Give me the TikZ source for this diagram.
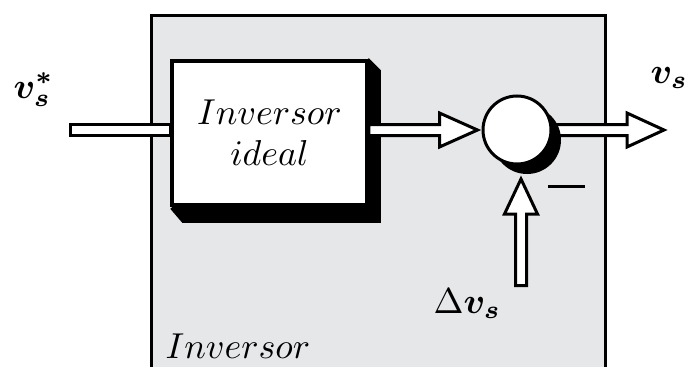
\documentclass[tikz,border=0pt]{standalone}
\usepackage{bm}
\usetikzlibrary{calc}
\definecolor{panel}{HTML}{E6E7E9}
\begin{document}
\begin{tikzpicture}[x=1pt,y=-1pt,
  hollow/.style={draw=black,fill=white,line width=3pt,line join=miter,miter limit=10},
  bigtext/.style={font=\fontsize{10}{11.4}\selectfont, inner sep=0pt, scale=3.6},
  blockbox/.style={draw=black,fill=white,line width=3.5pt,minimum width=195pt,minimum height=144pt,inner sep=0pt},
  sumnode/.style={circle,draw=black,fill=white,line width=3pt,minimum size=68pt,inner sep=0pt},
]
\useasboundingbox (0,0) rectangle (689,367);
\clip (0,0) rectangle (689,367);
% outer panel
\node[draw=black,fill=panel,line width=3pt,minimum width=454pt,minimum height=380pt,anchor=north west,inner sep=0pt] (outer) at (150,14) {};
% block shadow
\node[blockbox,draw=none,fill=none] (box) at (269.5,133) {};
\fill[black] ($(box.north east)+(0,-1)$) -- ($(box.north east)+(12,11)$) -- ($(box.south east)+(12,16)$) -- ($(box.south west)+(12,16)$) -- ($(box.south west)+(0,2)$) -- cycle;
\node[blockbox] (box) at (269.5,133) {};
\node[bigtext,align=center] (boxtext) at (box.center) {$Inversor$\\$ideal$};
% coordinates
\coordinate (sumc) at (517,130);
\coordinate (inL) at (70,130);
\coordinate (outT) at (664,130);
\coordinate (dvB) at (521,285.5);
\coordinate (dvT) at (521,179);
% input bar
\draw[hollow] ($(inL)+(0,-5.5)$) rectangle ($(box.west|-sumc)+(0,5.5)$);
% output arrow (behind circle)
\draw[hollow] ($(sumc)+(0,-5.5)$) -- ($(outT)+(-37,-5.5)$) -- ($(outT)+(-37,-17)$) -- (outT) -- ($(outT)+(-37,17)$) -- ($(outT)+(-37,5.5)$) -- ($(sumc)+(0,5.5)$) -- cycle;
% sum shadow and circle
\fill[black] ($(sumc)+(10,10)$) circle (34);
\node[sumnode] (sum) at (sumc) {};
% middle arrow
\coordinate (midT) at ($(sum.west)+(-4,0)$);
\draw[hollow] ($(box.east|-sumc)+(0,-5.5)$) -- ($(midT)+(-38,-5.5)$) -- ($(midT)+(-38,-17)$) -- (midT) -- ($(midT)+(-38,17)$) -- ($(midT)+(-38,5.5)$) -- ($(box.east|-sumc)+(0,5.5)$) -- cycle;
% up arrow
\draw[hollow] ($(dvB)+(-5.5,0)$) -- ($(dvT)+(-5.5,35)$) -- ($(dvT)+(-16.5,35)$) -- (dvT) -- ($(dvT)+(16.5,35)$) -- ($(dvT)+(5.5,35)$) -- ($(dvB)+(5.5,0)$) -- cycle;
% minus sign
\coordinate (mL) at (548,186);
\coordinate (mR) at (585,186);
\draw[line width=3pt] (mL) -- (mR);
% labels
\node[bigtext,anchor=base west] (vin) at (13,98) {$\bm{v_s^*}$};
\node[bigtext,anchor=base west] (vout) at (650,83) {$\bm{v_s}$};
\node[bigtext,anchor=base west] (dv) at (433,313) {$\Delta\bm{v_s}$};
\node[bigtext,anchor=base west] (lab) at (165,358) {$Inversor$};
\end{tikzpicture}
\end{document}
